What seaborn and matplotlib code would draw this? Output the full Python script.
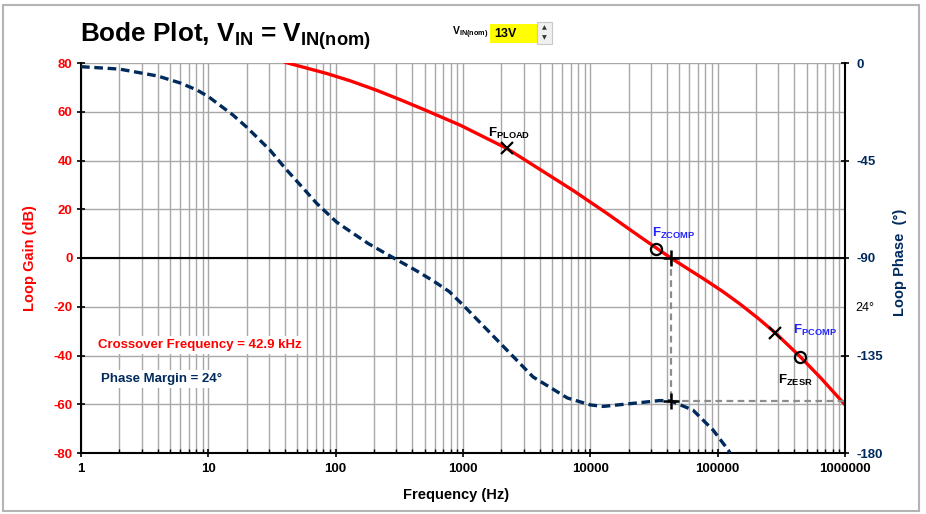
import numpy as np
import pandas as pd
import matplotlib
matplotlib.use("Agg")
import matplotlib.pyplot as plt
import matplotlib.ticker as mticker
from matplotlib.patches import Rectangle
import seaborn as sns

# values
gain_freq = [40, 85, 130, 210, 330, 520, 950, 2200, 4030, 7330, 13500, 24600, 42900,
             80000, 110000, 150000, 205000, 282000, 445000, 650000, 1000000]
gain_db = [80.3, 75.7, 72.7, 68.8, 64.7, 60.4, 54.5, 45.0, 36.3, 27.7, 18.3, 8.7, 0.0,
           -9.0, -13.8, -18.9, -24.5, -30.6, -40.5, -49.4, -60.2]

phase_freq = [1, 2, 4, 6, 8.1, 10, 15.6, 20, 30.5, 40, 55, 71, 102, 140, 180, 240,
              302, 420, 582, 780, 1000, 1950, 3550, 6600, 10000, 12600, 20000,
              35000, 42900, 64000, 92000, 121000, 125000]
phase_deg = [-1.7, -2.8, -6.0, -9.2, -12.4, -15.5, -24.0, -29.6, -40.2, -48.5, -57.5,
             -64.8, -73.5, -79.0, -83.3, -87.5, -90.8, -95.5, -100.5, -105.5,
             -111.7, -129.2, -144.9, -154.6, -157.8, -158.5, -157.3, -155.8, -156.0,
             -160.2, -169.4, -178.6, -180.0]

marker_names = ["PLOAD", "ZCOMP", "PCOMP", "ZESR"]
marker_freq = [2220, 32900, 283000, 445000]
marker_gain = [45.0, 3.6, -30.6, -40.6]
marker_shape = ["x", "o", "x", "o"]

crossover_freq = 42900
phase_at_crossover = -156
gain_ticks = [-80, -60, -40, -20, 0, 20, 40, 60, 80]
phase_ticks = [0, -45, -90, -135, -180]
freq_ticks = [1, 10, 100, 1000, 10000, 100000, 1000000]

RED = "#ff0000"
NAVY = "#002a5c"
BLUE = "#2222ff"
GRID = "#a8a8a8"

sns.set_theme(style="white")
plt.rcParams["font.family"] = ["Liberation Sans", "DejaVu Sans"]
plt.rcParams["axes.unicode_minus"] = False
plt.rcParams["mathtext.fontset"] = "custom"
plt.rcParams["mathtext.rm"] = "Liberation Sans:bold"
plt.rcParams["mathtext.bf"] = "Liberation Sans:bold"
plt.rcParams["mathtext.default"] = "bf"

fig = plt.figure(figsize=(9.26, 5.14), dpi=100)
ax = fig.add_axes([81 / 926, 1 - 453 / 514, 764 / 926, 390 / 514])

gain_df = pd.DataFrame({"freq": gain_freq, "gain": gain_db})
sns.lineplot(data=gain_df, x="freq", y="gain", ax=ax, color=RED, lw=2.4, zorder=4)

# phase on the right axis
ax2 = ax.twinx()
phase_df = pd.DataFrame({"freq": phase_freq, "phase": phase_deg})
sns.lineplot(data=phase_df, x="freq", y="phase", ax=ax2, color=NAVY, lw=2.4,
             linestyle=(0, (2.6, 1.4)), zorder=3)

for a in (ax, ax2):
    a.set_xscale("log")
    a.set_xlim(1, 1000000)
    a.set_xlabel("")
    a.set_ylabel("")
ax.set_ylim(-80, 80)
ax2.set_ylim(-180, 0)

ax.xaxis.set_major_locator(mticker.FixedLocator(freq_ticks))
ax.xaxis.set_major_formatter(mticker.FuncFormatter(lambda v, p: f"{int(round(v))}"))
ax.xaxis.set_minor_locator(mticker.LogLocator(base=10, subs=range(2, 10), numticks=20))
ax.xaxis.set_minor_formatter(mticker.NullFormatter())
ax.set_yticks(gain_ticks)
ax.grid(True, which="both", axis="x", color=GRID, lw=1.0)
ax.grid(True, which="major", axis="y", color=GRID, lw=1.0)
ax.axhline(0, color="black", lw=1.5, zorder=3)

for side in ["left", "bottom"]:
    ax.spines[side].set_color("black")
    ax.spines[side].set_linewidth(1.5)
ax.spines["top"].set_visible(False)
ax.spines["right"].set_visible(False)

ax.tick_params(axis="y", which="major", direction="inout", length=6, width=1.2,
               color="black", labelcolor=RED, labelsize=9.5, pad=3, left=True)
ax.tick_params(axis="x", which="major", direction="inout", length=6, width=1.2,
               color="black", labelcolor="black", labelsize=9.5, pad=4, bottom=True)
ax.tick_params(axis="x", which="minor", direction="in", length=3, width=1.0,
               color="black", bottom=True)
for lab in ax.get_xticklabels() + ax.get_yticklabels():
    lab.set_fontweight("bold")

ax2.set_yticks(phase_ticks)
ax2.grid(False)
ax2.xaxis.set_visible(False)
for side in ["top", "left", "bottom"]:
    ax2.spines[side].set_visible(False)
ax2.spines["right"].set_color("black")
ax2.spines["right"].set_linewidth(1.5)
ax2.tick_params(axis="y", which="major", direction="inout", length=6, width=1.2,
                color="black", labelcolor=NAVY, labelsize=9.5, pad=5, right=True)
for lab in ax2.get_yticklabels():
    lab.set_fontweight("bold")

# markers on the gain curve
label_offsets = [(-19, 15), (-4, 16), (18, 2), (-22, -23)]
label_colors = ["black", BLUE, BLUE, "black"]
for name, f, g, m, off, c in zip(marker_names, marker_freq, marker_gain,
                                 marker_shape, label_offsets, label_colors):
    if m == "o":
        ax.plot([f], [g], marker="o", ms=8, mfc="none", mec="black", mew=1.6, zorder=6)
    else:
        ax.plot([f], [g], marker="x", ms=8, mec="black", mew=1.6, zorder=6)
    ax.annotate(r"F$_{" + name + "}$", (f, g), xytext=off, textcoords="offset pixels",
                ha="left", va="center", fontsize=9.5, fontweight="bold", color=c,
                zorder=7)

ax.text(17 / 764, (453 - 345) / 390, "Crossover Frequency = 42.9 kHz",
        transform=ax.transAxes, ha="left", va="center", fontsize=9.5,
        fontweight="bold", color=RED, zorder=8,
        bbox=dict(facecolor="white", edgecolor="none", pad=2))
ax.text(20 / 764, (453 - 379) / 390, "Phase Margin = 24°",
        transform=ax.transAxes, ha="left", va="center", fontsize=9.5,
        fontweight="bold", color=NAVY, zorder=8,
        bbox=dict(facecolor="white", edgecolor="none", pad=2))

# crossover guides
ax2.plot([crossover_freq, crossover_freq], [-90, phase_at_crossover], color="#8c8c8c",
         lw=1.6, ls=(0, (3, 2)), zorder=2)
ax2.plot([crossover_freq, 1000000], [phase_at_crossover, phase_at_crossover],
         color="#8c8c8c", lw=1.6, ls=(0, (3, 2)), zorder=2)
ax2.plot([crossover_freq], [-90], marker="+", ms=11, mec="black", mew=1.8, zorder=6)
ax2.plot([crossover_freq], [phase_at_crossover], marker="+", ms=11, mec="black",
         mew=1.8, zorder=6)
ax2.text(1.014, -113, "24°", transform=ax2.get_yaxis_transform(), ha="left",
         va="center", fontsize=9, color="black")

# axis titles
fig.text(30 / 926, 1 - 258 / 514, "Loop Gain (dB)", rotation=90, ha="center",
         va="center", fontsize=10.5, fontweight="bold", color=RED)
fig.text(900 / 926, 1 - 262 / 514, "Loop Phase  (°)", rotation=90, ha="center",
         va="center", fontsize=10.5, fontweight="bold", color=NAVY)
fig.text(456 / 926, 1 - 495 / 514, "Frequency (Hz)", ha="center", va="center",
         fontsize=10.5, fontweight="bold", color="black")

# title and input selector
fig.text(80 / 926, 1 - 36 / 514, r"Bode Plot, V$_{IN}$ = V$_{IN(nom)}$", ha="left",
         va="center", fontsize=18.8, fontweight="bold", color="black")
fig.text(452 / 926, 1 - 33 / 514, r"V$_{IN(nom)}$", ha="left", va="center",
         fontsize=7.5, fontweight="bold", color="black")
fig.patches.append(Rectangle((490 / 926, 1 - 43 / 514), 47 / 926, 19 / 514,
                             transform=fig.transFigure, facecolor="#ffff00",
                             edgecolor="none"))
fig.text(494 / 926, 1 - 34 / 514, "13V", ha="left", va="center", fontsize=9,
         fontweight="bold", color="black")
fig.patches.append(Rectangle((537 / 926, 1 - 44 / 514), 15 / 926, 22 / 514,
                             transform=fig.transFigure, facecolor="#f0f0f0",
                             edgecolor="#c8c8c8", lw=0.8))
fig.text(544.5 / 926, 1 - 28 / 514, "▲", ha="center", va="center", fontsize=4.5,
         color="#333333", family="DejaVu Sans")
fig.text(544.5 / 926, 1 - 38 / 514, "▼", ha="center", va="center", fontsize=4.5,
         color="#333333", family="DejaVu Sans")

# outer frame
fig.patches.append(Rectangle((3 / 926, 1 - 511 / 514), 916 / 926, 506 / 514,
                             transform=fig.transFigure, facecolor="none",
                             edgecolor="#b4b4b4", lw=1.5))

fig.savefig("out.png", dpi=100)
